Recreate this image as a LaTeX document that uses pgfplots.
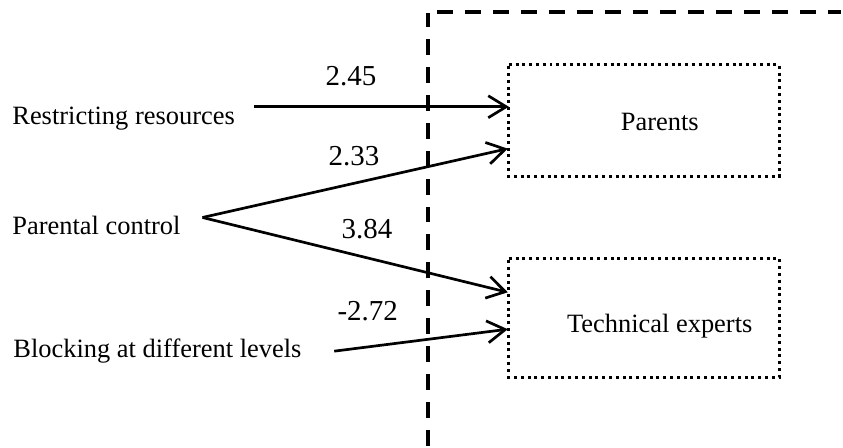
\documentclass[border=0pt]{standalone}
\usepackage{pgfplots}
\pgfplotsset{compat=1.18}
\usetikzlibrary{arrows.meta}
\usepackage{fontspec}
\setmainfont{Liberation Serif}

% 1 pixel of the reference = 0.5pt
\newcommand{\labfont}{\rmfamily\fontsize{13.25}{15}\selectfont}
\newcommand{\numfont}{\rmfamily\fontsize{14.5}{17}\selectfont}

\begin{document}
\begin{tikzpicture}
\begin{axis}[
    scale only axis,
    width=421.5pt, height=223.5pt,
    xmin=0, xmax=843,
    ymin=0, ymax=447,
    y dir=reverse,
    hide axis,
    clip=false,
    arr/.style={line width=1.35pt, -{Straight Barb[length=9pt,width=11pt,line width=1.35pt]}},
    box/.style={line width=1.5pt, dash pattern=on 1.5pt off 1.9pt},
]
% invisible frame for the page size
\addplot[draw=none] coordinates {(0,0) (843,447)};

% dashed boundary
\addplot[line width=2pt, dash pattern=on 8pt off 6pt] coordinates {(429,447) (429,13)};
\addplot[line width=2pt, dash pattern=on 8pt off 6pt] coordinates {(438,12) (843,12)};

% target boxes
\addplot[box] coordinates {(510,65) (781,65) (781,177) (510,177) (510,65)};
\addplot[box] coordinates {(510,259) (781,259) (781,378) (510,378) (510,259)};

% paths
\addplot[arr] coordinates {(255,107) (510,107)};
\addplot[arr] coordinates {(203,218) (509,149)};
\addplot[arr] coordinates {(203,218) (509,293)};
\addplot[arr] coordinates {(335,352) (509,330)};

% labels
\node[anchor=base west, inner sep=0pt, font=\labfont] at (axis cs:12,125) {Restricting resources};
\node[anchor=base west, inner sep=0pt, font=\labfont] at (axis cs:12,235) {Parental control};
\node[anchor=base west, inner sep=0pt, font=\labfont] at (axis cs:13,358) {Blocking at different levels};
\node[anchor=base west, inner sep=0pt, font=\labfont] at (axis cs:622,131) {Parents};
\node[anchor=base west, inner sep=0pt, font=\labfont] at (axis cs:568,333) {Technical experts};

\node[anchor=base west, inner sep=0pt, font=\numfont] at (axis cs:326,86) {2.45};
\node[anchor=base west, inner sep=0pt, font=\numfont] at (axis cs:329,166) {2.33};
\node[anchor=base west, inner sep=0pt, font=\numfont] at (axis cs:342,239) {3.84};
\node[anchor=base west, inner sep=0pt, font=\numfont] at (axis cs:338,321) {-2.72};
\end{axis}
\end{tikzpicture}
\end{document}
